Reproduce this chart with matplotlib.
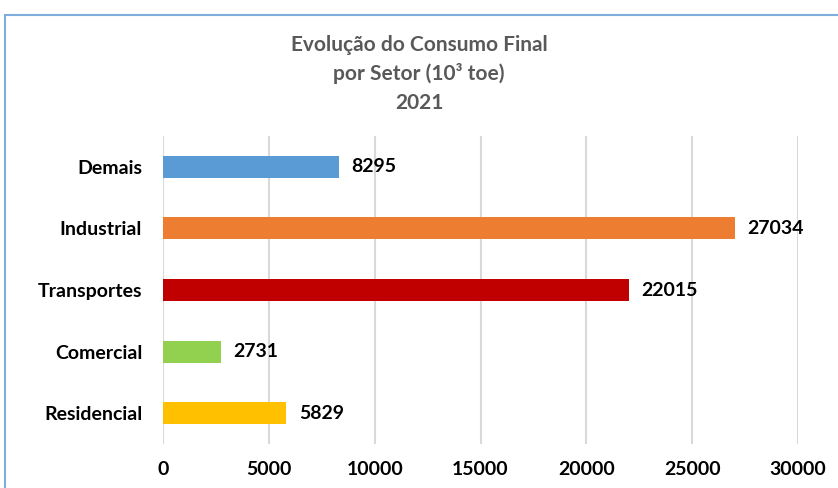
import matplotlib.pyplot as plt
from matplotlib.patches import Rectangle

plt.rcParams['font.family'] = ['Lato', 'DejaVu Sans']

setores = ['Residencial', 'Comercial', 'Transportes', 'Industrial', 'Demais']
consumo = [5829, 2731, 22015, 27034, 8295]
cores = ['#FFC000', '#92D050', '#C00000', '#ED7D31', '#5B9BD5']
ticks_x = [0, 5000, 10000, 15000, 20000, 25000, 30000]

W, H = 838, 488
fig = plt.figure(figsize=(W / 100, H / 100), dpi=100)
ax = fig.add_axes([163 / W, 1 - 444 / H, (798 - 163) / W, (444 - 136) / H])

pos = list(range(len(setores)))
ax.barh(pos, consumo, height=0.36, color=cores, zorder=3)

for p, v in zip(pos, consumo):
    ax.annotate(str(v), (v, p), xytext=(9, 0), textcoords='offset points',
                va='center', ha='left', fontsize=14, fontweight='bold', color='black')

ax.set_xlim(0, 30000)
ax.set_ylim(-0.5, len(setores) - 0.5)
ax.set_xticks(ticks_x)
ax.set_xticklabels([str(t) for t in ticks_x])
ax.set_yticks(pos)
ax.set_yticklabels(setores)
ax.tick_params(axis='both', length=0, labelsize=14)
ax.tick_params(axis='x', pad=12)
ax.tick_params(axis='y', pad=15)
for lbl in ax.get_xticklabels() + ax.get_yticklabels():
    lbl.set_fontweight('bold')

ax.grid(axis='x', color='#D9D9D9', linewidth=1.5, zorder=0)
for s in ax.spines.values():
    s.set_visible(False)

titulo = ['Evolução do Consumo Final', 'por Setor (10³ toe)', '2021']
for i, linha in enumerate(titulo):
    fig.text(0.5, 1 - (45 + 29 * i) / H, linha, ha='center', va='center',
             fontsize=15, fontweight='bold', color='#595959')

# moldura do gráfico (cortada à direita e embaixo)
fig.patches.append(Rectangle((5 / W, -0.1), 1.2, 1.1 - 15 / H, transform=fig.transFigure,
                             fill=False, edgecolor='#7FAEDC', linewidth=1.5))

fig.savefig('out.png', dpi=100)
